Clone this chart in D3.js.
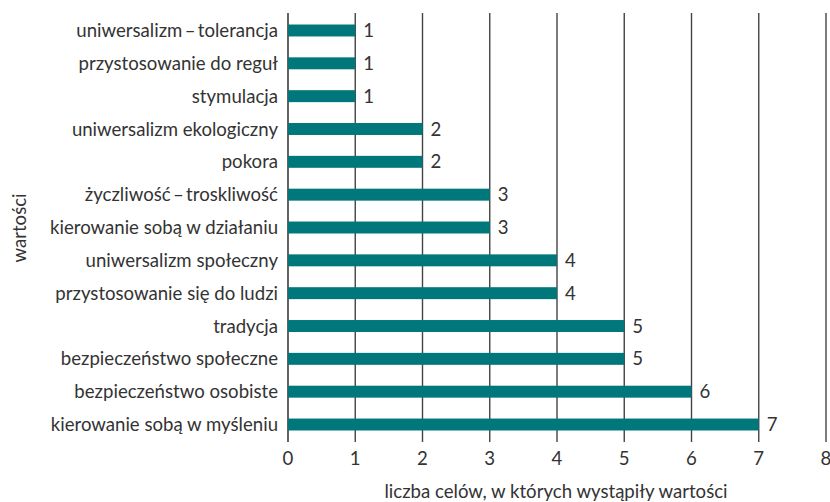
<!DOCTYPE html>
<html>
<head>
<meta charset="utf-8">
<script src="https://cdn.jsdelivr.net/npm/d3@7"></script>
<style>
  body { margin: 0; background: #fff; }
  text { font-family: Lato, "Noto Sans", sans-serif; fill: #333; }
</style>
</head>
<body>
<div id="chart"></div>
<script>
// categories top to bottom
var categories = [
  "uniwersalizm\u2009–\u2009tolerancja",
  "przystosowanie do reguł",
  "stymulacja",
  "uniwersalizm ekologiczny",
  "pokora",
  "życzliwość\u2009–\u2009troskliwość",
  "kierowanie sobą w działaniu",
  "uniwersalizm społeczny",
  "przystosowanie się do ludzi",
  "tradycja",
  "bezpieczeństwo społeczne",
  "bezpieczeństwo osobiste",
  "kierowanie sobą w myśleniu"
];
var values = [1, 1, 1, 2, 2, 3, 3, 4, 4, 5, 5, 6, 7];
var xTicks = [0, 1, 2, 3, 4, 5, 6, 7, 8];
var xTitle = "liczba celów, w których wystąpiły wartości";
var yTitle = "wartości";

var w = 830, h = 502;
var mLeft = 288, mRight = 826, mTop = 13, mBottom = 442;
var fs = "18.6px";

var svg = d3.select("#chart")
    .append("svg")
    .attr("width", w)
    .attr("height", h);

var xScale = d3.scaleLinear()
    .domain([0, 8])
    .range([mLeft, mRight]);

var yScale = d3.scaleBand()
    .domain(categories)
    .range([mTop + 1, mBottom - 1])
    .paddingInner(0.636)
    .paddingOuter(0.32);

// vertical grid lines
svg.selectAll("line.grid")
   .data(xTicks)
   .enter()
   .append("line")
   .attr("class", "grid")
   .attr("x1", function(d){ return xScale(d); })
   .attr("x2", function(d){ return xScale(d); })
   .attr("y1", mTop)
   .attr("y2", mBottom)
   .attr("stroke", function(d){ return d == 0 ? "#222" : "#444"; })
   .attr("stroke-width", 1.4);

// tick labels
svg.selectAll("text.tick")
   .data(xTicks)
   .enter()
   .append("text")
   .attr("class", "tick")
   .attr("x", function(d){ return xScale(d); })
   .attr("y", 465)
   .attr("text-anchor", "middle")
   .style("font-size", fs)
   .text(function(d){ return d; });

// bars
svg.selectAll("rect")
   .data(values)
   .enter()
   .append("rect")
   .attr("x", xScale(0))
   .attr("y", function(d, i){ return yScale(categories[i]); })
   .attr("width", function(d){ return xScale(d) - xScale(0); })
   .attr("height", yScale.bandwidth())
   .attr("fill", "#00777a");

// value labels
svg.selectAll("text.val")
   .data(values)
   .enter()
   .append("text")
   .attr("class", "val")
   .attr("x", function(d){ return xScale(d) + 8; })
   .attr("y", function(d, i){ return yScale(categories[i]) + yScale.bandwidth() / 2; })
   .attr("dy", "0.35em")
   .style("font-size", fs)
   .text(function(d){ return d; });

// category labels
svg.selectAll("text.cat")
   .data(categories)
   .enter()
   .append("text")
   .attr("class", "cat")
   .attr("x", mLeft - 10)
   .attr("y", function(d){ return yScale(d) + yScale.bandwidth() / 2; })
   .attr("dy", "0.35em")
   .attr("text-anchor", "end")
   .style("font-size", fs)
   .text(function(d){ return d; });

// axis titles
svg.append("text")
   .attr("x", 556)
   .attr("y", 498)
   .attr("text-anchor", "middle")
   .style("font-size", fs)
   .text(xTitle);

svg.append("text")
   .attr("transform", "translate(26, 228) rotate(-90)")
   .attr("text-anchor", "middle")
   .style("font-size", fs)
   .text(yTitle);
</script>
</body>
</html>
